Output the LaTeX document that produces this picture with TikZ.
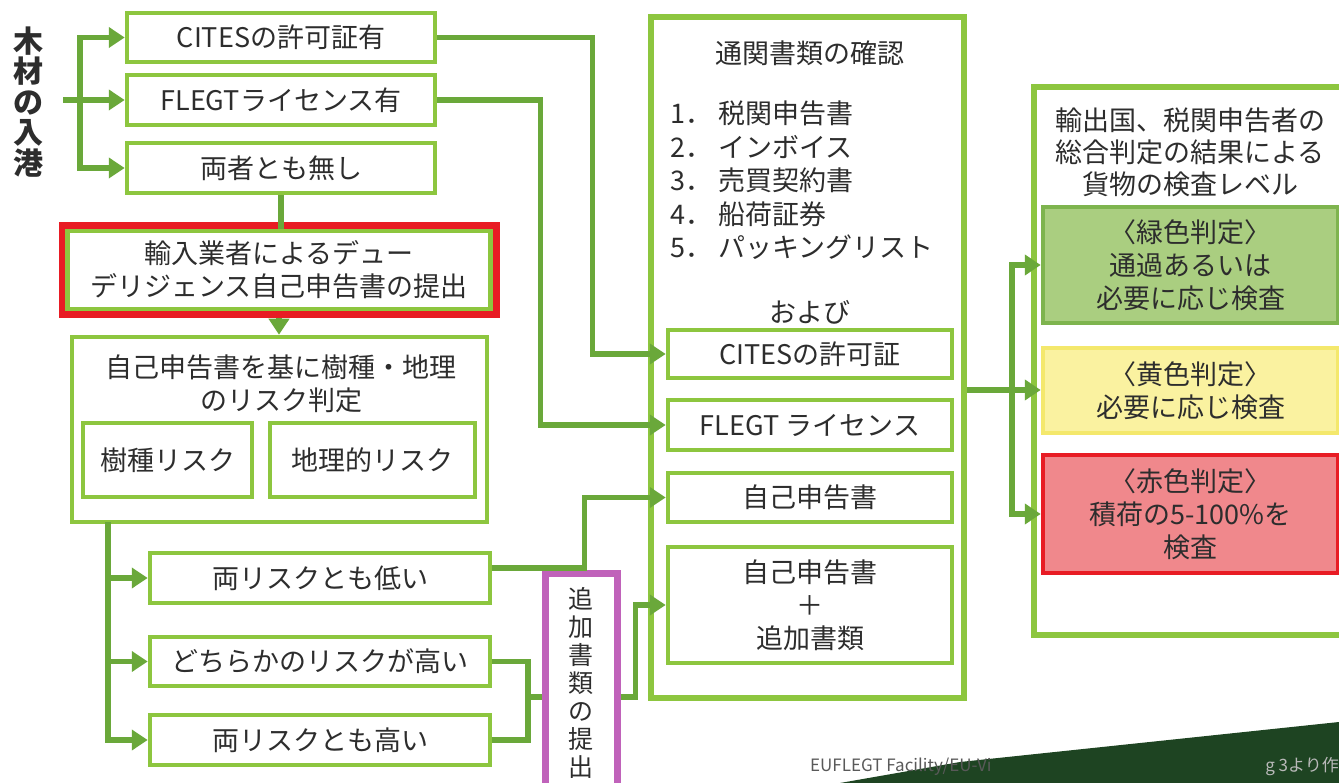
\documentclass[tikz,border=0pt]{standalone}
\usepackage{fontspec}
\setmainfont{Noto Sans CJK JP}
\usetikzlibrary{
  calc,
  arrows.meta,
  positioning
}
\definecolor{boxgreen}{RGB}{141,198,63}
\definecolor{linegreen}{RGB}{106,168,58}
\definecolor{alarmred}{RGB}{232,28,36}
\definecolor{addpurple}{RGB}{192,98,186}
\definecolor{passfill}{RGB}{170,206,128}
\definecolor{passedge}{RGB}{126,180,78}
\definecolor{holdfill}{RGB}{250,242,160}
\definecolor{holdedge}{RGB}{244,232,108}
\definecolor{stopfill}{RGB}{240,136,140}
\definecolor{inktext}{RGB}{45,45,45}
\definecolor{leafdark}{RGB}{30,68,34}

\begin{document}
\begin{tikzpicture}[
            x=1pt, y=-1pt,
            font=\fontsize{27}{33}\selectfont,
            text=inktext,
            % riquadri
            box/.style={rectangle, draw=boxgreen, line width=4.5pt, fill=white, inner sep=0pt, align=center},
            frame/.style={rectangle, draw=boxgreen, line width=6pt, fill=white, inner sep=0pt},
            alert/.style={box, preaction={draw=alarmred, line width=18pt}},
            extra/.style={rectangle, draw=addpurple, line width=7pt, fill=white, inner sep=0pt, align=center},
            level/.style={rectangle, line width=4.5pt, inner sep=0pt, align=center, minimum width=295pt},
            arrow/.style={draw=linegreen, line width=5.5pt, -{Triangle[length=16pt,width=20pt]}},
            link/.style={draw=linegreen, line width=5.5pt}
        ]
        \useasboundingbox (0,0) rectangle (1339,783);

        % Sfondo (foto in basso a destra)
        \fill [leafdark] (840,783) -- (960,762) -- (1339,722) -- (1339,783) -- cycle;

        % Ingresso
        \node (arrival) [font=\fontsize{30}{30.5}\selectfont\bfseries, align=center, inner sep=0pt] at (28,102) {木\\材\\の\\入\\港};
        \node (cites) [box, minimum width=308pt, minimum height=49pt] at (281,37.5) {CITESの許可証有};
        \node (flegt) [box, minimum width=308pt, minimum height=50pt] at (281,100) {FLEGTライセンス有};
        \node (neither) [box, minimum width=308pt, minimum height=50pt] at (281,168) {両者とも無し};
        \node (dd_submit) [alert, minimum width=423pt, minimum height=78pt] at (279,270) {輸入業者によるデュー\\デリジェンス自己申告書の提出};

        % Valutazione del rischio
        \node (risk) [box, minimum width=415pt, minimum height=185pt] at (279.5,429.5) {};
        \node (risk_title) [align=center, inner sep=0pt] at (281,383.5) {自己申告書を基に樹種・地理\\のリスク判定};
        \node (species) [box, minimum width=169pt, minimum height=74pt] at (167.5,460) {樹種リスク};
        \node (geo) [box, minimum width=205pt, minimum height=74pt] at (372.5,460) {地理的リスク};

        \node (low) [box, minimum width=340pt, minimum height=50pt] at (320,578) {両リスクとも低い};
        \node (either) [box, minimum width=340pt, minimum height=49pt] at (320,661.5) {どちらかのリスクが高い};
        \node (both) [box, minimum width=340pt, minimum height=50pt] at (320,740) {両リスクとも高い};
        \node (add_submit) [extra, minimum width=72pt, minimum height=220pt, font=\fontsize{25}{28}\selectfont] at (581,683) {追\\加\\書\\類\\の\\提\\出};

        % Documenti doganali
        \node (docs) [frame, minimum width=313pt, minimum height=681pt] at (807.5,357.5) {};
        \node (docs_title) [inner sep=0pt] at (810,53) {通関書類の確認};
        \node (doc_list) [align=left, inner sep=0pt, anchor=west, font=\fontsize{27}{33.5}\selectfont] at (670,180.5) {1． 税関申告書\\2． インボイス\\3． 売買契約書\\4． 船荷証券\\5． パッキングリスト};
        \node (and_label) [inner sep=0pt] at (810,312) {および};
        \node (cites_doc) [box, minimum width=284pt, minimum height=48pt] at (810,354) {CITESの許可証};
        \node (flegt_doc) [box, minimum width=284pt, minimum height=50pt] at (810,425) {FLEGT ライセンス};
        \node (self_doc) [box, minimum width=284pt, minimum height=49pt] at (810,497.5) {自己申告書};
        \node (self_add) [box, minimum width=284pt, minimum height=116pt] at (810,605) {自己申告書\\＋\\追加書類};

        % Livelli di ispezione
        \node (result) [frame, minimum width=318pt, minimum height=548pt] at (1193,361) {};
        \node (result_title) [align=center, inner sep=0pt, font=\fontsize{27}{32}\selectfont] at (1190,152) {輸出国、税関申告者の\\総合判定の結果による\\貨物の検査レベル};
        \node (green_lv) [level, fill=passfill, draw=passedge, minimum height=116pt] at (1190.5,265) {〈緑色判定〉\\通過あるいは\\必要に応じ検査};
        \node (yellow_lv) [level, fill=holdfill, draw=holdedge, minimum height=85pt] at (1190.5,390.5) {〈黄色判定〉\\必要に応じ検査};
        \node (red_lv) [level, fill=stopfill, draw=alarmred, minimum height=118pt] at (1190.5,514) {〈赤色判定〉\\積荷の5-100\%を\\検査};

        % Fonte
        \node (credit) [anchor=west, inner sep=0pt, font=\fontsize{17}{20}\selectfont, text=gray!70!black] at (810,767) {EUFLEGT Facility/EU-Vi};
        \node (credit_tail) [anchor=east, inner sep=0pt, font=\fontsize{17}{20}\selectfont, text=gray!55] at (1339,767) {g 3より作};

        % Collegamenti
        \coordinate (entry) at (63,100);
        \coordinate (fork) at (80,100);
        \draw [arrow] (entry) -- (flegt.west);
        \draw [arrow] (fork) |- (cites.west);
        \draw [arrow] (fork) |- (neither.west);
        \draw [link] (neither.south) -- (neither.south |- dd_submit.north);
        \draw [arrow, shorten <=7pt] (dd_submit.south) -- (dd_submit.south |- risk.north);

        \coordinate (rfork) at (108,522);
        \draw [arrow] (rfork) |- (low.west);
        \draw [arrow] (rfork) |- (either.west);
        \draw [arrow] (rfork) |- (both.west);

        % Verso i documenti
        \draw [arrow] (cites.east) -- ++(155,0) |- (cites_doc.west);
        \draw [arrow] (flegt.east) -- ++(103,0) |- (flegt_doc.west);
        \draw [arrow] ([yshift=10pt]low.east) -- ++(92,0) |- (self_doc.west);
        \coordinate (bracket) at (528,697);
        \draw [link] (either.east) -| (bracket) |- (both.east);
        \draw [link] (bracket) -- (bracket -| add_submit.west);
        \draw [arrow] (bracket -| add_submit.east) -- ++(15,0) |- (self_add.west);

        % Verso i livelli
        \coordinate (jfork) at (1012,390);
        \draw [link] (jfork -| docs.east) -- (jfork);
        \draw [arrow] (jfork) |- (green_lv.west);
        \draw [arrow] (jfork) -- (jfork -| yellow_lv.west);
        \draw [arrow] (jfork) |- (red_lv.west);

    \end{tikzpicture}
\end{document}
